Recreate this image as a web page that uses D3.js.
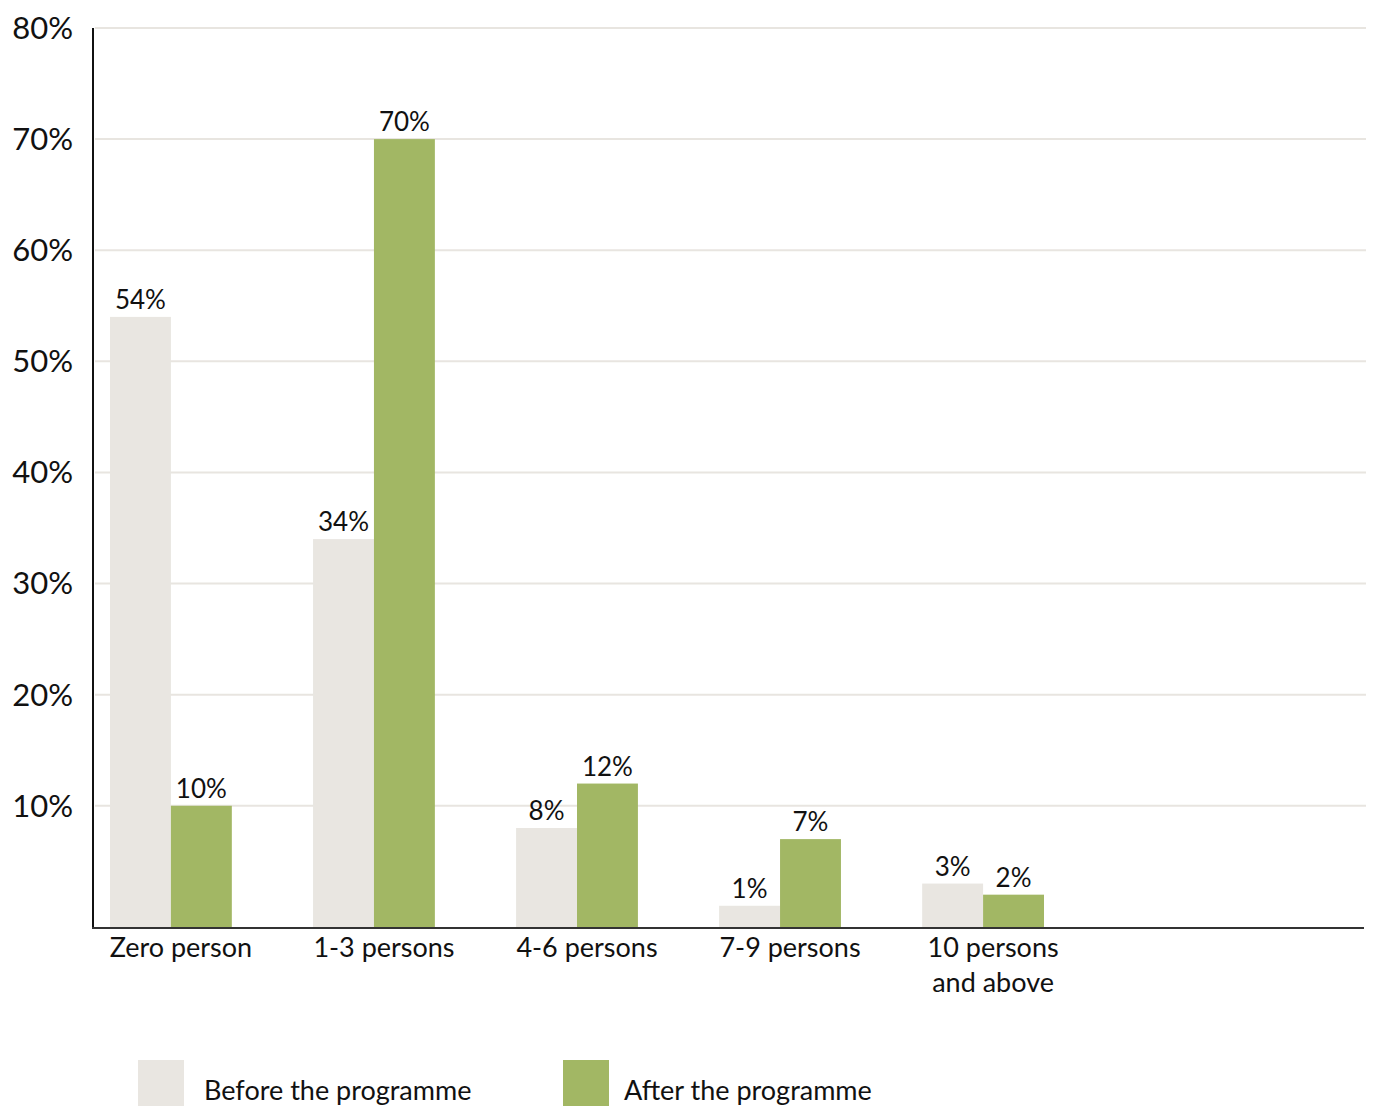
<!DOCTYPE html>
<html>
<head>
<meta charset="utf-8">
<script src="https://cdn.jsdelivr.net/npm/d3@7"></script>
<style>
  body { margin: 0; background: #fff; }
  text { font-family: Lato, "Open Sans", sans-serif; fill: #111; }
</style>
</head>
<body>
<div id="chart"></div>
<script>
// Chart data
const categories = ["Zero person", "1-3 persons", "4-6 persons", "7-9 persons", "10 persons\nand above"];
const seriesNames = ["Before the programme", "After the programme"];
const beforeValues = [54, 34, 8, 1, 3];
const afterValues = [10, 70, 12, 7, 2];
const yTicks = [10, 20, 30, 40, 50, 60, 70, 80];

const colors = ["#e9e6e1", "#a2b764"];

const width = 1379;
const height = 1106;
const baseline = 928;

const svg = d3.select("#chart")
    .append("svg")
    .attr("width", width)
    .attr("height", height);

// Scales
const y = d3.scaleLinear().domain([-1, 80]).range([baseline, 28]);

const x0 = d3.scaleBand()
    .domain(categories)
    .range([110, 1044])
    .paddingInner(0.4)
    .paddingOuter(0);

const x1 = d3.scaleBand()
    .domain(seriesNames)
    .range([0, x0.bandwidth()]);

// Gridlines
svg.append("g")
    .selectAll("line")
    .data(yTicks)
    .enter()
    .append("line")
    .attr("x1", 95)
    .attr("x2", 1366)
    .attr("y1", d => y(d))
    .attr("y2", d => y(d))
    .attr("stroke", "#e8e5e0")
    .attr("stroke-width", 2);

// Y tick labels
svg.append("g")
    .selectAll("text")
    .data(yTicks)
    .enter()
    .append("text")
    .attr("x", 73)
    .attr("y", d => y(d))
    .attr("dy", "0.35em")
    .attr("text-anchor", "end")
    .style("font-size", "31px")
    .text(d => d + "%");

// Bars
const rows = categories.map((c, i) => ({ category: c, values: [beforeValues[i], afterValues[i]] }));

const groups = svg.append("g")
    .selectAll("g")
    .data(rows)
    .enter()
    .append("g")
    .attr("transform", d => `translate(${x0(d.category)},0)`);

groups.selectAll("rect")
    .data(d => d.values.map((v, j) => ({ series: seriesNames[j], value: v, idx: j })))
    .enter()
    .append("rect")
    .attr("x", d => x1(d.series))
    .attr("width", x1.bandwidth())
    .attr("y", d => y(d.value))
    .attr("height", d => baseline - y(d.value))
    .attr("fill", d => colors[d.idx]);

// Value labels
groups.selectAll("text.value")
    .data(d => d.values.map((v, j) => ({ series: seriesNames[j], value: v })))
    .enter()
    .append("text")
    .attr("class", "value")
    .attr("x", d => x1(d.series) + x1.bandwidth() / 2)
    .attr("y", d => y(d.value) - 8)
    .attr("text-anchor", "middle")
    .style("font-size", "26px")
    .text(d => d.value + "%");

// Axes lines
svg.append("line")
    .attr("x1", 93).attr("x2", 93)
    .attr("y1", 28).attr("y2", baseline + 1)
    .attr("stroke", "#111")
    .attr("stroke-width", 2);

svg.append("line")
    .attr("x1", 92).attr("x2", 1364)
    .attr("y1", baseline).attr("y2", baseline)
    .attr("stroke", "#333")
    .attr("stroke-width", 2);

// Category labels
const catLabels = svg.append("g")
    .selectAll("text")
    .data(categories)
    .enter()
    .append("text")
    .attr("x", d => x0(d) + x0.bandwidth() / 2 + 10)
    .attr("y", 957)
    .attr("text-anchor", "middle")
    .style("font-size", "27px");

catLabels.each(function (d) {
    const lines = d.split("\n");
    d3.select(this).selectAll("tspan")
        .data(lines)
        .enter()
        .append("tspan")
        .attr("x", d3.select(this).attr("x"))
        .attr("dy", (l, i) => i === 0 ? 0 : 35)
        .text(l => l);
});

// Legend
const legendX = [138, 563];
const legend = svg.append("g")
    .selectAll("g")
    .data(seriesNames)
    .enter()
    .append("g")
    .attr("transform", (d, i) => `translate(${legendX[i]},1060)`);

legend.append("rect")
    .attr("width", 46)
    .attr("height", 46)
    .attr("fill", (d, i) => colors[i]);

legend.append("text")
    .attr("x", (d, i) => i === 0 ? 66 : 61)
    .attr("y", 40)
    .style("font-size", "27px")
    .text(d => d);
</script>
</body>
</html>
